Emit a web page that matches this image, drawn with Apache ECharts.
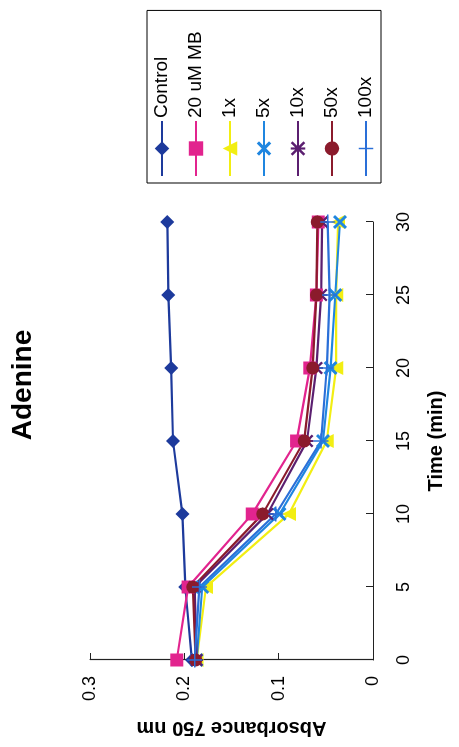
<!DOCTYPE html>
<html>
<head>
<meta charset="utf-8">
<script src="https://cdn.jsdelivr.net/npm/echarts@6/dist/echarts.min.js"></script>
<style>
  html, body { margin: 0; padding: 0; background: #fff; overflow: hidden; }
  #wrap { position: absolute; left: 0; top: 0; width: 459px; height: 747px; overflow: hidden; }
  /* chart is laid out landscape, then turned a quarter turn counter-clockwise */
  #chart { position: absolute; left: 0; top: 0; width: 747px; height: 459px;
           transform-origin: 0 0; transform: translate(0, 747px) rotate(-90deg); }
</style>
</head>
<body>
<div id="wrap"><div id="chart"></div></div>
<script>
// Time points (min)
const times = [0, 5, 10, 15, 20, 25, 30];
const timeTicks = [0, 5, 10, 15, 20, 25, 30];
const absTicks = [0, 0.1, 0.2, 0.3];

// Absorbance at 750 nm for each treatment
const control = [0.192, 0.199, 0.202, 0.212, 0.214, 0.217, 0.218];
const mb20    = [0.208, 0.196, 0.128, 0.081, 0.067, 0.060, 0.058];
const x1      = [0.187, 0.177, 0.089, 0.049, 0.039, 0.039, 0.037];
const x5      = [0.187, 0.181, 0.099, 0.053, 0.045, 0.040, 0.035];
const x10     = [0.187, 0.189, 0.112, 0.070, 0.060, 0.055, 0.054];
const x50     = [0.188, 0.191, 0.117, 0.073, 0.064, 0.060, 0.059];
const x100    = [0.189, 0.184, 0.103, 0.055, 0.049, 0.046, 0.048];

const names  = ['Control', '20 uM MB', '1x', '5x', '10x', '50x', '100x'];
const values = [control, mb20, x1, x5, x10, x50, x100];
const colors = ['#1d3a9c', '#e2248e', '#f2ee12', '#1f86e0', '#5b1f70', '#8b1b2c', '#2a6fd8'];

const X_PATH    = 'path://M0,3 L3,0 L10,7 L17,0 L20,3 L13,10 L20,17 L17,20 L10,13 L3,20 L0,17 L7,10 Z';
const STAR_PATH = 'path://M0,2.5 L2.5,0 L10,7.5 L17.5,0 L20,2.5 L12.5,10 L20,17.5 L17.5,20 L10,12.5 L2.5,20 L0,17.5 L7.5,10 Z M8.5,0 L11.5,0 L11.5,20 L8.5,20 Z';
const PLUS_PATH = 'path://M9,0 L11,0 L11,9 L20,9 L20,11 L11,11 L11,20 L9,20 L9,11 L0,11 L0,9 L9,9 Z';
const symbols = ['diamond', 'rect', 'triangle', X_PATH, STAR_PATH, 'circle', PLUS_PATH];
const sizes   = [14, 13, 14, 14, 13, 13, 15];

const FONT = '"Liberation Sans", Arial, sans-serif';

const series = names.map((n, i) => ({
  name: n,
  type: 'line',
  data: times.map((t, k) => [t, values[i][k]]),
  symbol: symbols[i],
  symbolSize: sizes[i],
  showAllSymbol: true,
  color: colors[i],
  lineStyle: { width: 2.2, color: colors[i] },
  itemStyle: { color: colors[i] },
  emphasis: { disabled: true },
  animation: false
}));

const chart = echarts.init(document.getElementById('chart'), null, { renderer: 'canvas' });
chart.setOption({
  backgroundColor: '#fff',
  animation: false,
  title: {
    text: 'Adenine',
    left: 357, top: 4, textAlign: 'center',
    textStyle: { fontFamily: FONT, fontSize: 28, fontWeight: 'bold', color: '#000' }
  },
  legend: {
    orient: 'vertical',
    left: 564, top: 147,
    data: names,
    itemWidth: 55, itemHeight: 18, itemGap: 14,
    padding: [5, 21, 5, 6],
    borderColor: '#000', borderWidth: 1,
    textStyle: { fontFamily: FONT, fontSize: 19, color: '#000', lineHeight: 20, padding: [0, 0, 0, -2] }
  },
  grid: { left: 87, right: 222, top: 90, bottom: 86, containLabel: false },
  xAxis: {
    type: 'value', min: 0, max: 30, interval: 5,
    name: 'Time (min)', nameLocation: 'middle', nameGap: 53,
    nameTextStyle: { fontFamily: FONT, fontSize: 20, fontWeight: 'bold', color: '#000' },
    axisLine: { show: true, onZero: false, lineStyle: { color: '#222', width: 1.2 } },
    axisTick: { show: true, inside: true, length: 7, lineStyle: { color: '#222' } },
    axisLabel: { margin: 22, fontFamily: FONT, fontSize: 18, color: '#000',
                 formatter: v => timeTicks.includes(v) ? String(v) : '' },
    splitLine: { show: false }
  },
  yAxis: {
    type: 'value', min: 0, max: 0.3, interval: 0.1,
    name: 'Absorbance 750 nm', nameLocation: 'middle', nameGap: 58,
    nameTextStyle: { fontFamily: FONT, fontSize: 20, fontWeight: 'bold', color: '#000' },
    axisLine: { show: true, onZero: false, lineStyle: { color: '#222', width: 1.2 } },
    axisTick: { show: true, inside: true, length: 7, lineStyle: { color: '#222' } },
    axisLabel: { margin: 16, fontFamily: FONT, fontSize: 18, color: '#000',
                 formatter: v => {
                   const t = absTicks.find(a => Math.abs(a - v) < 1e-9);
                   return t === undefined ? '' : String(t);
                 } },
    splitLine: { show: false }
  },
  series: series
});
</script>
</body>
</html>
